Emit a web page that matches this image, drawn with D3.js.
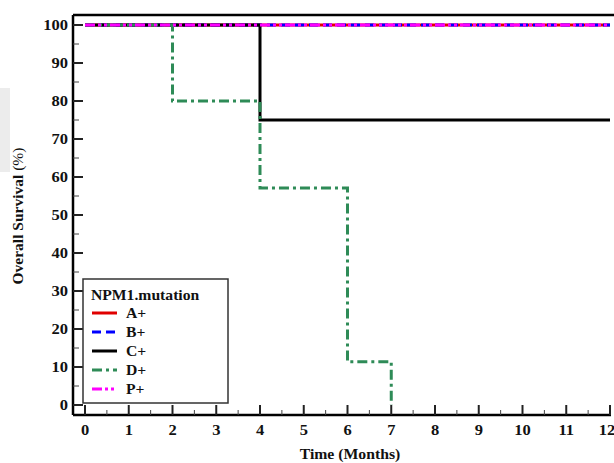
<!DOCTYPE html>
<html>
<head>
<style>
  body { margin: 0; background: white; }
  svg text { font-family: 'Liberation Serif', 'Times New Roman', serif; font-weight: bold; }
</style>
</head>
<body>
<svg id='svgVis'></svg>
<script src="https://cdn.jsdelivr.net/npm/d3@7"></script>
<script>

var xTicks = [0,1,2,3,4,5,6,7,8,9,10,11,12];
var yTicks = [0,10,20,30,40,50,60,70,80,90,100];

var groups = ['A+','B+','C+','D+','P+'];
var colors = ['#e00000','#0000ff','#000000','#2e8b57','#ff00ff'];
var dashes = [null,'9,5',null,'10,4,3,4','10,3,3,3,3,3'];

// step curves: [time, survival]
var seriesA = [[0,100],[12,100]];
var seriesB = [[0,100],[12,100]];
var seriesC = [[0,100],[4,100],[4,75],[12,75]];
var seriesD = [[0,100],[2,100],[2,80],[4,80],[4,57.1],[6,57.1],[6,11.4],[7,11.4],[7,0]];
var seriesP = [[0,100],[12,100]];
var allSeries = [seriesA, seriesB, seriesC, seriesD, seriesP];

var width = 614, height = 463;

var svg = d3.select('#svgVis')
    .attr('width', width)
    .attr('height', height);

// light gray artifact on the left edge
svg.append('rect').attr('x', 0).attr('y', 88).attr('width', 10).attr('height', 84)
  .attr('fill', '#ececec');

var x = d3.scaleLinear().domain([0, 12]).range([85, 610]);
var y = d3.scaleLinear().domain([0, 100]).range([405, 25]);

var frameLeft = 73, frameTop = 15, frameBottom = 415;

// text helper, slightly stretched glyphs like the reference
function label(parent, px, py, txt, size, anchor, sx) {
  return parent.append('text')
    .attr('transform', 'translate(' + px + ',' + py + ') scale(' + (sx || 1) + ',1)')
    .attr('text-anchor', anchor || 'start')
    .attr('font-size', size)
    .attr('fill', '#111')
    .text(txt);
}

// frame
svg.append('line').attr('x1', frameLeft).attr('x2', width + 5)
  .attr('y1', frameTop).attr('y2', frameTop)
  .attr('stroke', '#000').attr('stroke-width', 2.5);
svg.append('line').attr('x1', frameLeft).attr('x2', frameLeft)
  .attr('y1', frameTop).attr('y2', frameBottom)
  .attr('stroke', '#000').attr('stroke-width', 2.5);
svg.append('line').attr('x1', frameLeft).attr('x2', 611)
  .attr('y1', frameBottom).attr('y2', frameBottom)
  .attr('stroke', '#000').attr('stroke-width', 2.5);

// y ticks
var minorY = d3.range(5, 100, 10);
svg.selectAll('.ytick').data(yTicks).enter().append('line')
  .attr('x1', frameLeft).attr('x2', frameLeft + 10)
  .attr('y1', function(d) { return y(d); }).attr('y2', function(d) { return y(d); })
  .attr('stroke', '#222').attr('stroke-width', 2);
svg.selectAll('.yminor').data(minorY).enter().append('line')
  .attr('x1', frameLeft).attr('x2', frameLeft + 6)
  .attr('y1', function(d) { return y(d); }).attr('y2', function(d) { return y(d); })
  .attr('stroke', '#444').attr('stroke-width', 1);
yTicks.forEach(function(d) {
  label(svg, 68, y(d) + 5, d, 15, 'end', 1.1);
});

// x ticks
var minorX = d3.range(0.5, 12, 1);
svg.selectAll('.xtick').data(xTicks).enter().append('line')
  .attr('x1', function(d) { return x(d); }).attr('x2', function(d) { return x(d); })
  .attr('y1', frameBottom).attr('y2', frameBottom - 10)
  .attr('stroke', '#222').attr('stroke-width', 2);
svg.selectAll('.xminor').data(minorX).enter().append('line')
  .attr('x1', function(d) { return x(d); }).attr('x2', function(d) { return x(d); })
  .attr('y1', frameBottom).attr('y2', frameBottom - 5)
  .attr('stroke', '#444').attr('stroke-width', 1);
xTicks.forEach(function(d) {
  var xx = x(d);
  if (d === 12) xx = 607;
  label(svg, xx, 435, d, 15, 'middle', 1.1);
});

// axis titles
label(svg, 350, 459, 'Time (Months)', 15, 'middle', 1.05);
var yt = svg.append('text')
  .attr('transform', 'translate(23,216) rotate(-90)')
  .attr('text-anchor', 'middle').attr('font-size', 15.5).attr('fill', '#111');
yt.append('tspan').text('Overall Survival  ');
yt.append('tspan').attr('font-weight', 'normal').text('(%)');

// curves
var line = d3.line().x(function(d) { return x(d[0]); }).y(function(d) { return y(d[1]); });
svg.selectAll('.curve').data(allSeries).enter().append('path')
  .attr('d', line)
  .attr('fill', 'none')
  .attr('stroke', function(d, i) { return colors[i]; })
  .attr('stroke-width', 3)
  .attr('stroke-dasharray', function(d, i) { return dashes[i]; });

// legend
var lg = svg.append('g');
lg.append('rect').attr('x', 83).attr('y', 279).attr('width', 145).attr('height', 124)
  .attr('fill', 'white').attr('stroke', '#333').attr('stroke-width', 1.5);
label(lg, 91, 300, 'NPM1.mutation', 14.5, 'start', 1.08);
groups.forEach(function(g, i) {
  var yy = 313 + i * 19;
  lg.append('line').attr('x1', 92).attr('x2', 117).attr('y1', yy).attr('y2', yy)
    .attr('stroke', colors[i]).attr('stroke-width', 3)
    .attr('stroke-dasharray', dashes[i]);
  label(lg, 126, yy + 5, g, 14.5, 'start', 1.08);
});

</script>
</body>
</html>
